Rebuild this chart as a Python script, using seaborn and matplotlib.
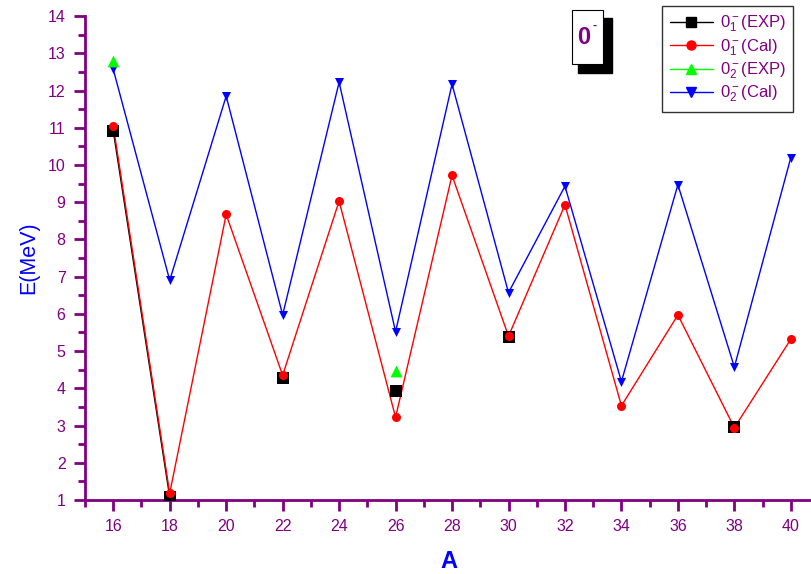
import numpy as np
import pandas as pd
import matplotlib
matplotlib.use("Agg")
import matplotlib.pyplot as plt
import seaborn as sns
from matplotlib.patches import Rectangle
from matplotlib.ticker import MultipleLocator
from matplotlib.lines import Line2D

A = [16, 18, 20, 22, 24, 26, 28, 30, 32, 34, 36, 38, 40]
exp1 = [10.92, 1.08, np.nan, 4.27, np.nan, 3.92, np.nan, 5.37, np.nan, np.nan, np.nan, 2.95, np.nan]
cal1 = [11.05, 1.18, 8.67, 4.35, 9.03, 3.22, 9.72, 5.40, 8.93, 3.53, 5.97, 2.94, 5.32]
exp2 = [12.80, np.nan, np.nan, np.nan, np.nan, 4.47, np.nan, np.nan, np.nan, np.nan, np.nan, np.nan, np.nan]
cal2 = [12.57, 6.90, 11.85, 5.97, 12.22, 5.52, 12.17, 6.57, 9.43, 4.18, 9.47, 4.57, 10.20]

labels = [r"$0_1^-$(EXP)", r"$0_1^-$(Cal)", r"$0_2^-$(EXP)", r"$0_2^-$(Cal)"]
xticks = list(range(16, 41, 2))
yticks = list(range(1, 15))

sns.set_style("white")
plt.rcParams['font.family'] = ['Liberation Sans', 'DejaVu Sans']
plt.rcParams['mathtext.fontset'] = 'custom'
plt.rcParams['mathtext.rm'] = 'Liberation Sans'
plt.rcParams['mathtext.it'] = 'Liberation Sans'
plt.rcParams['mathtext.bf'] = 'Liberation Sans:bold'

purple = '#800080'

fig = plt.figure(figsize=(8.12, 5.74), dpi=100)
ax = fig.add_axes([0.1047, 0.129, 0.8953, 0.843])

df = pd.DataFrame({"A": A, "exp1": exp1, "cal1": cal1, "exp2": exp2, "cal2": cal2})

styles = [
    ("exp1", 'black', 's', 8.5),
    ("cal1", 'red', 'o', 6.5),
    ("cal2", 'blue', 'v', 6.5),
    ("exp2", '#00ff00', '^', 8.5),
]
for col, c, m, ms in styles:
    sub = df[["A", col]]
    valid = sub[col].notna().values
    seg_id = np.cumsum(~valid)
    sub = sub.assign(seg=seg_id)[valid]
    for s, g in sub.groupby("seg"):
        if len(g) > 1:
            sns.lineplot(data=g, x="A", y=col, color=c, lw=1.0, ax=ax,
                         estimator=None, sort=False)
    sns.scatterplot(data=sub, x="A", y=col, color=c, marker=m, s=ms**2,
                    edgecolor=c, linewidth=0, ax=ax, zorder=3)

order = [("black", 's', 6.5), ("red", 'o', 6.5), ("#00ff00", '^', 7), ("blue", 'v', 7)]
hs = [Line2D([0], [0], color=c, marker=m, markersize=ms, lw=1.0) for c, m, ms in order]

ax.set_xlim(15, 40.75)
ax.set_ylim(1, 14)
ax.set_xticks(xticks)
ax.set_yticks(yticks)
ax.xaxis.set_minor_locator(MultipleLocator(1))
ax.yaxis.set_minor_locator(MultipleLocator(0.5))
for s in ['top', 'right']:
    ax.spines[s].set_visible(False)
for s in ['left', 'bottom']:
    ax.spines[s].set_color(purple)
    ax.spines[s].set_linewidth(2)
ax.tick_params(axis='both', which='major', direction='out', length=8, width=2,
               color=purple, labelcolor=purple, labelsize=11.5, pad=6, left=True, bottom=True)
ax.tick_params(axis='both', which='minor', direction='out', length=5, width=2,
               color=purple, left=True, bottom=True)

ax.set_xlabel("A", color='blue', fontsize=17, fontweight='bold', labelpad=11)
ax.set_ylabel("E(MeV)", color='blue', fontsize=15.5, labelpad=6)

leg = fig.legend(hs, labels, loc='upper right', bbox_to_anchor=(793/812, 1-6/574),
                 bbox_transform=fig.transFigure, borderaxespad=0,
                 frameon=True, fancybox=False, fontsize=12, labelcolor=purple,
                 handlelength=2.6, handletextpad=0.4, borderpad=0.45, labelspacing=0.18)
leg.get_frame().set_edgecolor('black')
leg.get_frame().set_linewidth(1)

# "0-" label box with shadow
fig.patches.append(Rectangle((578/812, 1-73/574), 34/812, 55/574, transform=fig.transFigure,
                             facecolor='black', edgecolor='black', zorder=5))
fig.patches.append(Rectangle((572/812, 1-64/574), 31/812, 54/574, transform=fig.transFigure,
                             facecolor='white', edgecolor='black', lw=0.8, zorder=6))
fig.text(584/812, 1-38/574, "0", color=purple, fontsize=17, fontweight='bold',
         ha='center', va='center', zorder=7)
fig.text(595/812, 1-26/574, "-", color=purple, fontsize=9, fontweight='bold',
         ha='center', va='center', zorder=7)

fig.savefig("out.png", dpi=100)
